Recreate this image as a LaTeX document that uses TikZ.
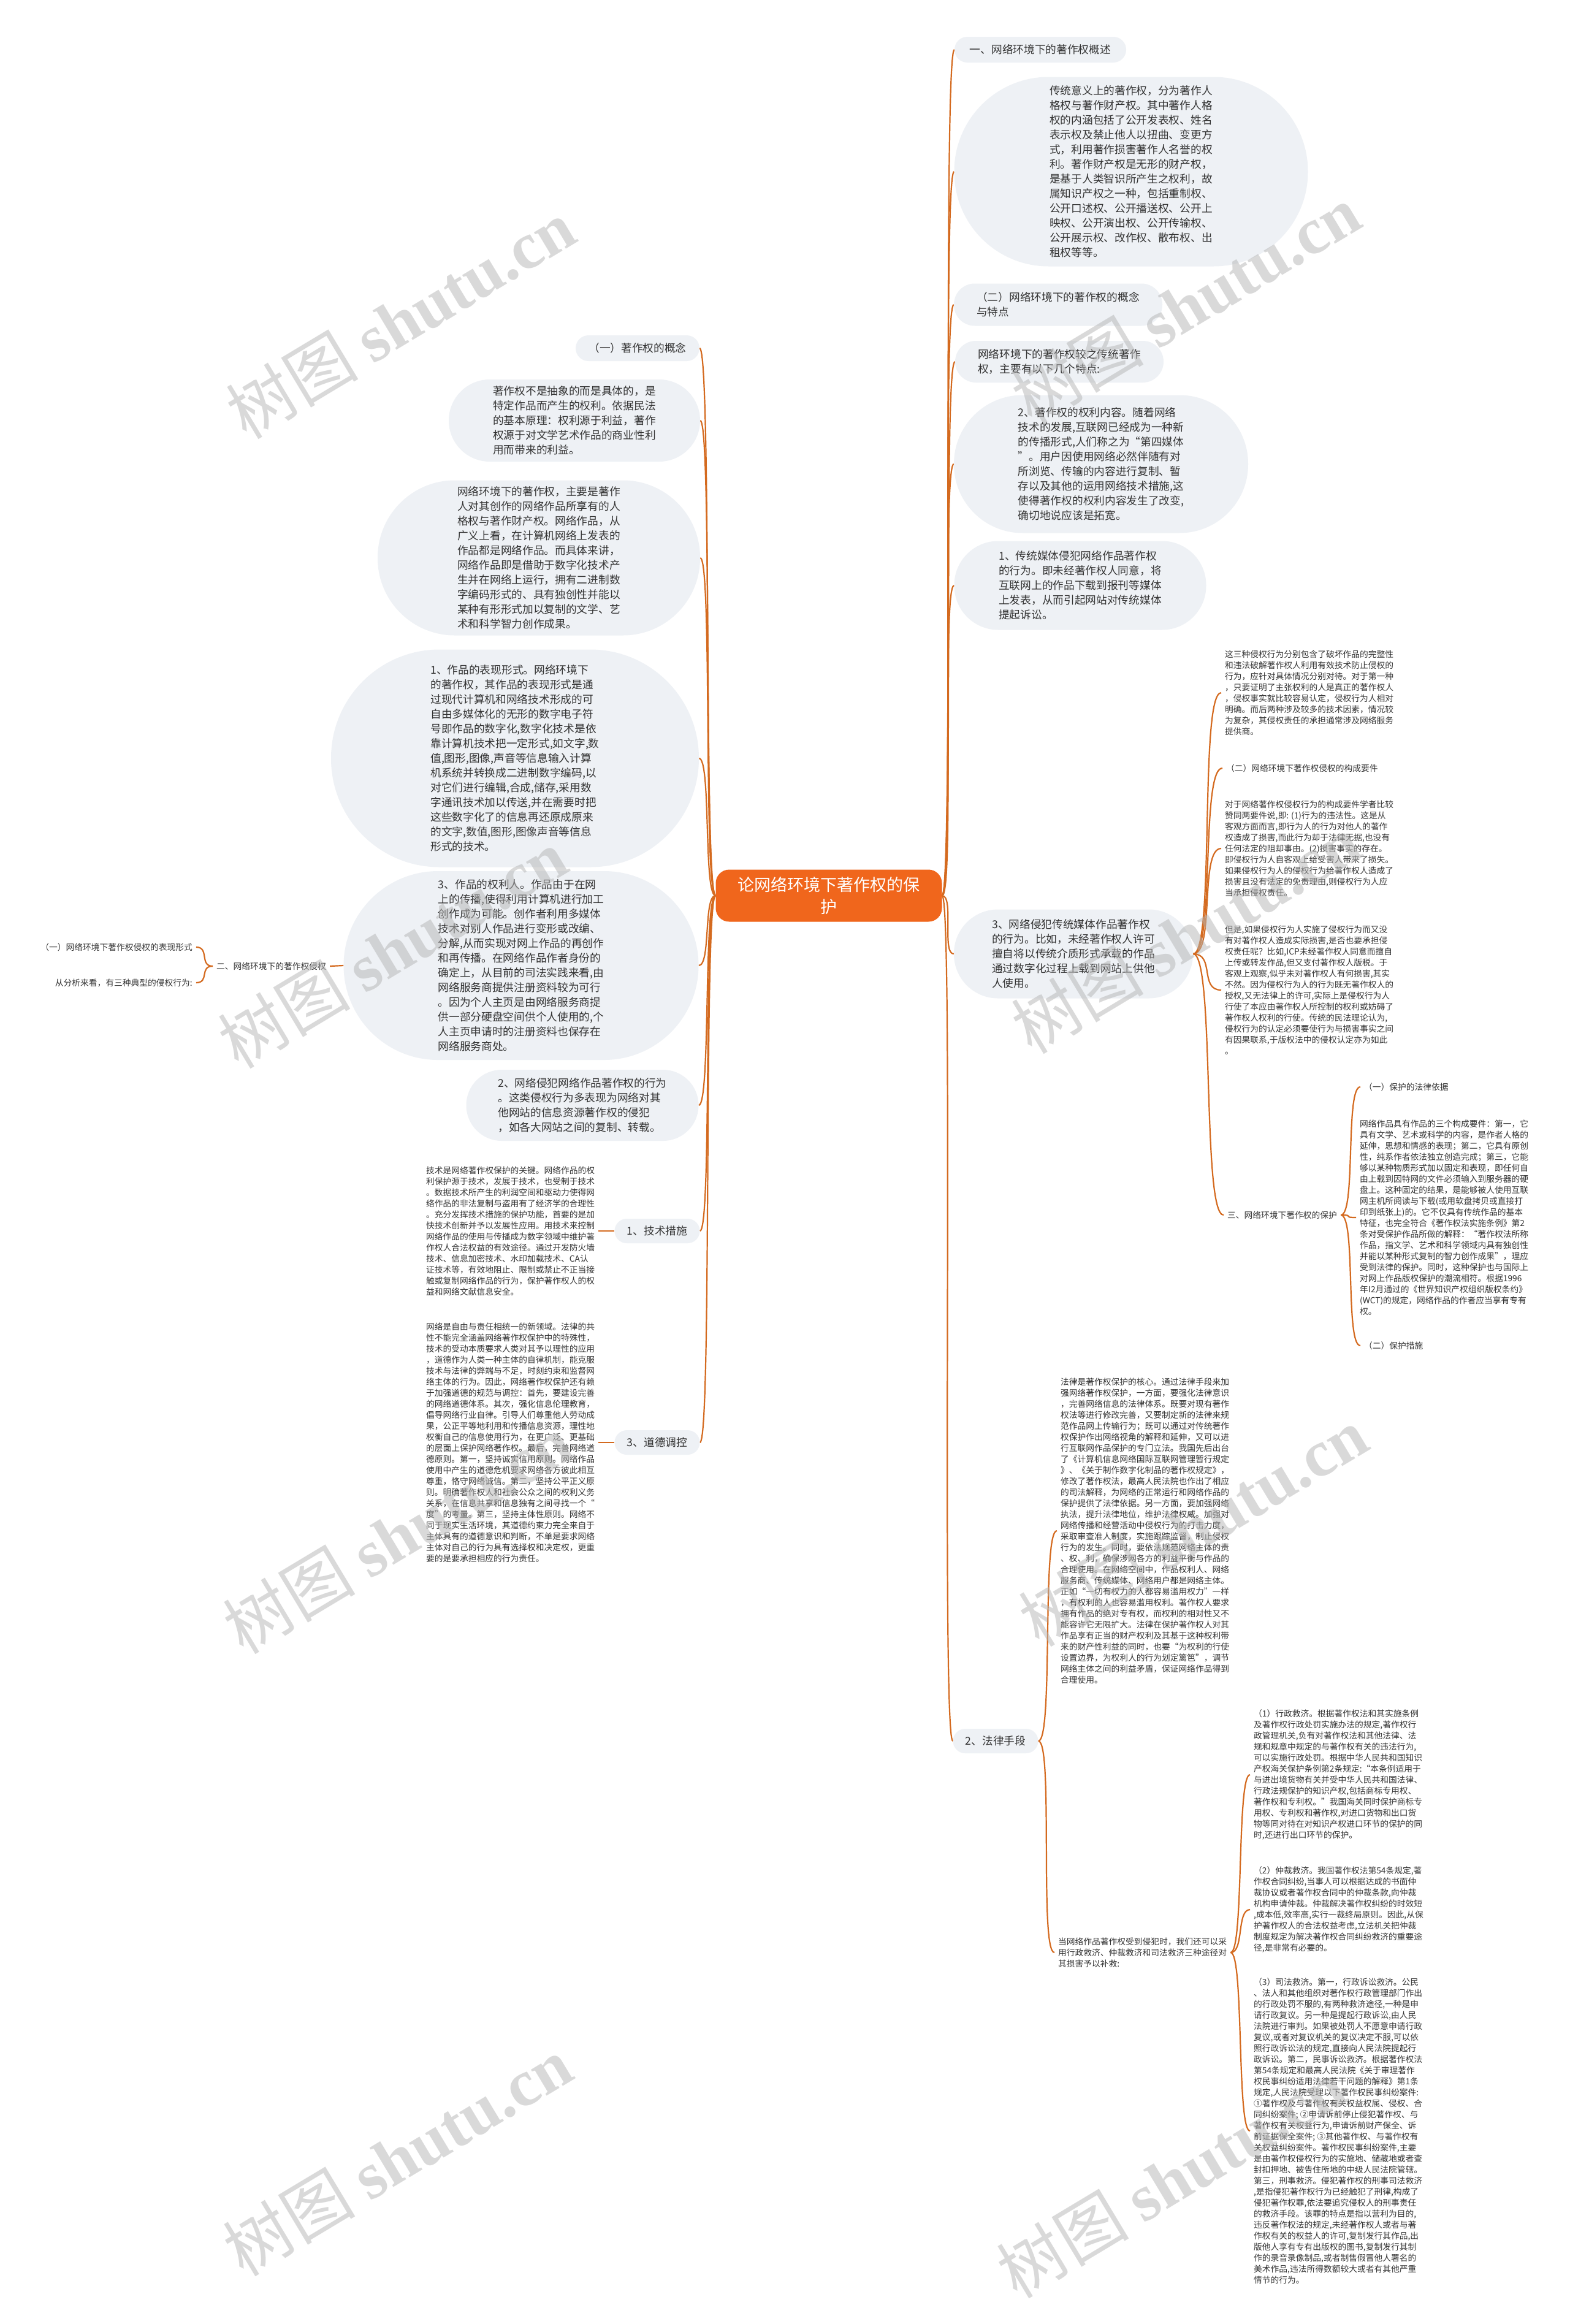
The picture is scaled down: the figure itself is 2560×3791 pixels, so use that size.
\documentclass[tikz,border=0pt]{standalone}
\usepackage{fontspec}
\setmainfont{Noto Sans CJK SC}
\newfontfamily\wmserif{Liberation Serif}
\pgfdeclarelayer{bg}
\pgfdeclarelayer{fg}
\pgfsetlayers{bg,main,fg}
\definecolor{txtc}{HTML}{333333}
\definecolor{bubc}{HTML}{EEF1F5}
\definecolor{lnkc}{HTML}{D46A1F}
\definecolor{ctrc}{HTML}{F0661C}
\definecolor{wmc}{HTML}{B4B4B4}
\tikzset{
  bigtext/.style={font=\fontsize{17.7pt}{24pt}\selectfont, text=txtc, align=left},
  smalltext/.style={font=\fontsize{13.75pt}{18pt}\selectfont, text=txtc, align=left, inner xsep=6pt, inner ysep=0pt, anchor=west},
  bubble/.style n args={3}{bigtext, fill=bubc, rounded corners=#1pt, minimum width=#2pt, minimum height=#3pt, inner sep=0pt},
  conn/.style={draw=lnkc, line width=2.2pt},
  wmark/.style={text=wmc, opacity=0.5, rotate=31, inner sep=0pt},
}
\begin{document}
\begin{tikzpicture}[x=1pt,y=-1pt]
\useasboundingbox (0,0) rectangle (2560,3791);
\begin{pgfonlayer}{bg}
\fill[white] (0,0) rectangle (2560,3791);
\end{pgfonlayer}

% centre
\node[fill=ctrc, rounded corners=22pt, minimum width=369pt, minimum height=85pt, text=white, align=center, font=\fontsize{27pt}{36pt}\selectfont, inner sep=0pt] (C) at (1352,1461) {论网络环境下著作权的保\\护};

% right column
\node[bubble={21}{280}{42}] (R1) at (1697,81) {一、网络环境下的著作权概述};
\node[bubble={154}{577}{309}] (R2) at (1845,280) {传统意义上的著作权，分为著作人\\格权与著作财产权。其中著作人格\\权的内涵包括了公开发表权、姓名\\表示权及禁止他人以扭曲、变更方\\式，利用著作损害著作人名誉的权\\利。著作财产权是无形的财产权，\\是基于人类智识所产生之权利，故\\属知识产权之一种，包括重制权、\\公开口述权、公开播送权、公开上\\映权、公开演出权、公开传输权、\\公开展示权、改作权、散布权、出\\租权等等。};
\node[bubble={34}{340}{69}] (R3) at (1726,497) {（二）网络环境下的著作权的概念\\与特点};
\node[bubble={34}{340}{68}] (R4) at (1728,590) {网络环境下的著作权较之传统著作\\权，主要有以下几个特点:};
\node[bubble={112}{480}{225}] (R5) at (1796,757) {2、著作权的权利内容。随着网络\\技术的发展,互联网已经成为一种新\\的传播形式,人们称之为“第四媒体\\”。用户因使用网络必然伴随有对\\所浏览、传输的内容进行复制、暂\\存以及其他的运用网络技术措施,这\\使得著作权的权利内容发生了改变,\\确切地说应该是拓宽。};
\node[bubble={72}{411}{145}] (R6) at (1762,955) {1、传统媒体侵犯网络作品著作权\\的行为。即未经著作权人同意，将\\互联网上的作品下载到报刊等媒体\\上发表，从而引起网站对传统媒体\\提起诉讼。};
\node[bubble={72}{390}{145}] (R7) at (1751,1556) {3、网络侵犯传统媒体作品著作权\\的行为。比如，未经著作权人许可\\擅自将以传统介质形式承载的作品\\通过数字化过程上载到网站上供他\\人使用。};
\node[bubble={20}{139}{40}] (LAW) at (1624,2840) {2、法律手段};

% right small texts
\node[smalltext] (B1) at (1992,1130) {这三种侵权行为分别包含了破坏作品的完整性\\和违法破解著作权人利用有效技术防止侵权的\\行为，应针对具体情况分别对待。对于第一种\\，只要证明了主张权利的人是真正的著作权人\\，侵权事实就比较容易认定，侵权行为人相对\\明确。而后两种涉及较多的技术因素，情况较\\为复杂，其侵权责任的承担通常涉及网络服务\\提供商。};
\node[smalltext] (B2) at (1994,1253) {（二）网络环境下著作权侵权的构成要件};
\node[smalltext] (B3) at (1992,1384) {对于网络著作权侵权行为的构成要件学者比较\\赞同两要件说,即: (1)行为的违法性。这是从\\客观方面而言,即行为人的行为对他人的著作\\权造成了损害,而此行为却于法律无据,也没有\\任何法定的阻却事由。(2)损害事实的存在。\\即侵权行为人自客观上给受害人带来了损失。\\如果侵权行为人的侵权行为给著作权人造成了\\损害且没有法定的免责理由,则侵权行为人应\\当承担侵权责任。};
\node[smalltext] (B4) at (1992,1615) {但是,如果侵权行为人实施了侵权行为而又没\\有对著作权人造成实际损害,是否也要承担侵\\权责任呢？比如,ICP未经著作权人同意而擅自\\上传或转发作品,但又支付著作权人版税。于\\客观上观察,似乎未对著作权人有何损害,其实\\不然。因为侵权行为人的行为既无著作权人的\\授权,又无法律上的许可,实际上是侵权行为人\\行使了本应由著作权人所控制的权利或妨碍了\\著作权人权利的行使。传统的民法理论认为,\\侵权行为的认定必须要使行为与损害事实之间\\有因果联系,于版权法中的侵权认定亦为如此\\。};
\node[smalltext] (R8) at (1996,1982) {三、网络环境下著作权的保护};
\node[smalltext] (S1) at (2219,1773) {（一）保护的法律依据};
\node[smalltext] (S2) at (2212,1986) {网络作品具有作品的三个构成要件：第一，它\\具有文学、艺术或科学的内容，是作者人格的\\延伸，思想和情感的表现；第二，它具有原创\\性，纯系作者依法独立创造完成；第三，它能\\够以某种物质形式加以固定和表现，即任何自\\由上载到因特网的文件必须输入到服务器的硬\\盘上。这种固定的结果，是能够被人使用互联\\网主机所阅读与下载(或用软盘拷贝或直接打\\印到纸张上)的。它不仅具有传统作品的基本\\特征，也完全符合《著作权法实施条例》第2\\条对受保护作品所做的解释：“著作权法所称\\作品，指文学、艺术和科学领域内具有独创性\\并能以某种形式复制的智力创作成果”，理应\\受到法律的保护。同时，这种保护也与国际上\\对网上作品版权保护的潮流相符。根据1996\\年I2月通过的《世界知识产权组织版权条约》\\(WCT)的规定，网络作品的作者应当享有专有\\权。};
\node[smalltext] (S3) at (2219,2195) {（二）保护措施};

\node[smalltext] (T3) at (1724,2497) {法律是著作权保护的核心。通过法律手段来加\\强网络著作权保护，一方面，要强化法律意识\\，完善网络信息的法律体系。既要对现有著作\\权法等进行修改完善，又要制定新的法律来规\\范作品网上传输行为；既可以通过对传统著作\\权保护作出网络视角的解释和延伸，又可以进\\行互联网作品保护的专门立法。我国先后出台\\了《计算机信息网络国际互联网管理暂行规定\\》、《关于制作数字化制品的著作权规定》，\\修改了著作权法，最高人民法院也作出了相应\\的司法解释，为网络的正常运行和网络作品的\\保护提供了法律依据。另一方面，要加强网络\\执法，提升法律地位，维护法律权威。加强对\\网络传播和经营活动中侵权行为的打击力度，\\采取审查准人制度，实施跟踪监督，制止侵权\\行为的发生。同时，要依法规范网络主体的责\\、权、利，确保涉网各方的利益平衡与作品的\\合理使用。在网络空间中，作品权利人、网络\\服务商、传统媒体、网络用户都是网络主体。\\正如“一切有权力的人都容易滥用权力”一样\\，有权利的人也容易滥用权利。著作权人要求\\拥有作品的绝对专有权，而权利的相对性又不\\能容许它无限扩大。法律在保护著作权人对其\\作品享有正当的财产权利及其基于这种权利带\\来的财产性利益的同时，也要“为权利的行使\\设置边界，为权利人的行为划定篱笆”，调节\\网络主体之间的利益矛盾，保证网络作品得到\\合理使用。};
\node[smalltext] (T4) at (1720,3185) {当网络作品著作权受到侵犯时，我们还可以采\\用行政救济、仲裁救济和司法救济三种途径对\\其损害予以补救:};
\node[smalltext] (P1) at (2039,2895) {（1）行政救济。根据著作权法和其实施条例\\及著作权行政处罚实施办法的规定,著作权行\\政管理机关,负有对著作权法和其他法律、法\\规和规章中规定的与著作权有关的违法行为,\\可以实施行政处罚。根据中华人民共和国知识\\产权海关保护条例第2条规定:“本条例适用于\\与进出境货物有关并受中华人民共和国法律、\\行政法规保护的知识产权,包括商标专用权、\\著作权和专利权。”我国海关同时保护商标专\\用权、专利权和著作权,对进口货物和出口货\\物等同对待在对知识产权进口环节的保护的同\\时,还进行出口环节的保护。};
\node[smalltext] (P2) at (2039,3115) {（2）仲裁救济。我国著作权法第54条规定,著\\作权合同纠纷,当事人可以根据达成的书面仲\\裁协议或者著作权合同中的仲裁条款,向仲裁\\机构申请仲裁。仲裁解决著作权纠纷的时效短\\,成本低,效率高,实行一裁终局原则。因此,从保\\护著作权人的合法权益考虑,立法机关把仲裁\\制度规定为解决著作权合同纠纷救济的重要途\\径,是非常有必要的。};
\node[smalltext] (P3) at (2039,3476) {（3）司法救济。第一，行政诉讼救济。公民\\、法人和其他组织对著作权行政管理部门作出\\的行政处罚不服的,有两种救济途径,一种是申\\请行政复议。另一种是提起行政诉讼,由人民\\法院进行审判。如果被处罚人不愿意申请行政\\复议,或者对复议机关的复议决定不服,可以依\\照行政诉讼法的规定,直接向人民法院提起行\\政诉讼。第二，民事诉讼救济。根据著作权法\\第54条规定和最高人民法院《关于审理著作\\权民事纠纷适用法律若干问题的解释》第1条\\规定,人民法院受理以下著作权民事纠纷案件:\\①著作权及与著作权有关权益权属、侵权、合\\同纠纷案件; ②申请诉前停止侵犯著作权、与\\著作权有关权益行为,申请诉前财产保全、诉\\前证据保全案件; ③其他著作权、与著作权有\\关权益纠纷案件。著作权民事纠纷案件,主要\\是由著作权侵权行为的实施地、储藏地或者查\\封扣押地、被告住所地的中级人民法院管辖。\\第三，刑事救济。侵犯著作权的刑事司法救济\\,是指侵犯著作权行为已经触犯了刑律,构成了\\侵犯著作权罪,依法要追究侵权人的刑事责任\\的救济手段。该罪的特点是指以营利为目的,\\违反著作权法的规定,未经著作权人或者与著\\作权有关的权益人的许可,复制发行其作品,出\\版他人享有专有出版权的图书,复制发行其制\\作的录音录像制品,或者制售假冒他人署名的\\美术作品,违法所得数额较大或者有其他严重\\情节的行为。};

% left column
\node[bubble={21}{202}{42}] (L1) at (1040,568) {（一）著作权的概念};
\node[bubble={67}{410}{134}] (L2) at (937,686) {著作权不是抽象的而是具体的，是\\特定作品而产生的权利。依据民法\\的基本原理：权利源于利益，著作\\权源于对文学艺术作品的商业性利\\用而带来的利益。};
\node[bubble={126}{526}{253}] (L3) at (879,910) {网络环境下的著作权，主要是著作\\人对其创作的网络作品所享有的人\\格权与著作财产权。网络作品，从\\广义上看，在计算机网络上发表的\\作品都是网络作品。而具体来讲，\\网络作品即是借助于数字化技术产\\生并在网络上运行，拥有二进制数\\字编码形式的、具有独创性并能以\\某种有形形式加以复制的文学、艺\\术和科学智力创作成果。};
\node[bubble={177}{600}{355}] (L4) at (840,1237) {1、作品的表现形式。网络环境下\\的著作权，其作品的表现形式是通\\过现代计算机和网络技术形成的可\\自由多媒体化的无形的数字电子符\\号即作品的数字化,数字化技术是依\\靠计算机技术把一定形式,如文字,数\\值,图形,图像,声音等信息输入计算\\机系统并转换成二进制数字编码,以\\对它们进行编辑,合成,储存,采用数\\字通讯技术加以传送,并在需要时把\\这些数字化了的信息再还原成原来\\的文字,数值,图形,图像声音等信息\\形式的技术。};
\node[bubble={154}{579}{308}] (L5) at (850,1575) {3、作品的权利人。作品由于在网\\上的传播,使得利用计算机进行加工\\创作成为可能。创作者利用多媒体\\技术对别人作品进行变形或改编、\\分解,从而实现对网上作品的再创作\\和再传播。在网络作品作者身份的\\确定上，从目前的司法实践来看,由\\网络服务商提供注册资料较为可行\\。因为个人主页是由网络服务商提\\供一部分硬盘空间供个人使用的,个\\人主页申请时的注册资料也保存在\\网络服务商处。};
\node[smalltext] (L6) at (347,1576) {二、网络环境下的著作权侵权};
\node[smalltext, anchor=east] (C1) at (320,1545) {（一）网络环境下著作权侵权的表现形式};
\node[smalltext, anchor=east] (C2) at (320,1603) {从分析来看，有三种典型的侵权行为:};
\node[bubble={58}{379}{116}] (L7) at (950,1803) {2、网络侵犯网络作品著作权的行为\\。这类侵权行为多表现为网络对其\\他网站的信息资源著作权的侵犯\\，如各大网站之间的复制、转载。};
\node[bubble={20}{139}{40}] (L8) at (1072,2008) {1、技术措施};
\node[bubble={20}{139}{40}] (L9) at (1072,2353) {3、道德调控};
\node[smalltext] (T1) at (689,2008) {技术是网络著作权保护的关键。网络作品的权\\利保护源于技术，发展于技术，也受制于技术\\。数据技术所产生的利润空间和驱动力使得网\\络作品的非法复制与盗用有了经济学的合理性\\。充分发挥技术措施的保护功能，首要的是加\\快技术创新并予以发展性应用。用技术来控制\\网络作品的使用与传播成为数字领域中维护著\\作权人合法权益的有效途径。通过开发防火墙\\技术、信息加密技术、水印加载技术、CA认\\证技术等，有效地阻止、限制或禁止不正当接\\触或复制网络作品的行为，保护著作权人的权\\益和网络文献信息安全。};
\node[smalltext] (T2) at (689,2353) {网络是自由与责任相统一的新领域。法律的共\\性不能完全涵盖网络著作权保护中的特殊性，\\技术的受动本质要求人类对其予以理性的应用\\，道德作为人类一种主体的自律机制，能克服\\技术与法律的弊端与不足，时刻约束和监督网\\络主体的行为。因此，网络著作权保护还有赖\\于加强道德的规范与调控：首先，要建设完善\\的网络道德体系。其次，强化信息伦理教育，\\倡导网络行业自律。引导人们尊重他人劳动成\\果，公正平等地利用和传播信息资源，理性地\\权衡自己的信息使用行为，在更广泛、更基础\\的层面上保护网络著作权。最后，完善网络道\\德原则。第一，坚持诚实信用原则。网络作品\\使用中产生的道德危机要求网络各方彼此相互\\尊重，恪守网络诚信。第二，坚持公平正义原\\则。明确著作权人和社会公众之间的权利义务\\关系，在信息共享和信息独有之间寻找一个“\\度”的考量。第三，坚持主体性原则。网络不\\同于现实生活环境，其道德约束力完全来自于\\主体具有的道德意识和判断，不单是要求网络\\主体对自己的行为具有选择权和决定权，更重\\要的是要承担相应的行为责任。};

% connectors
\begin{pgfonlayer}{bg}
\foreach \n in {R1,R2,R3,R4,R5,R6,R7,LAW}
  \draw[conn] (C.east) .. controls +(20,0) and +(-20,0) .. (\n.west);
\foreach \n in {L1,L2,L3,L4,L5,L7,L8,L9}
  \draw[conn] (C.west) .. controls +(-20,0) and +(20,0) .. (\n.east);
\draw[conn] (L5.west) -- (L6.east);
\foreach \n in {C1,C2}
  \draw[conn] (L6.west) .. controls +(-22,0) and +(22,0) .. (\n.east);
\draw[conn] (L8.west) -- (T1.east);
\draw[conn] (L9.west) -- (T2.east);
\foreach \n in {B1,B2,B3,B4,R8}
  \draw[conn] (R7.east) .. controls +(36,0) and +(-36,0) .. (\n.west);
\foreach \n in {S1,S2,S3}
  \draw[conn] (R8.east) .. controls +(25,0) and +(-25,0) .. (\n.west);
\foreach \n in {T3,T4}
  \draw[conn] (LAW.east) .. controls +(25,0) and +(-25,0) .. (\n.west);
\foreach \n in {P1,P2,P3}
  \draw[conn] (T4.east) .. controls +(22,0) and +(-22,0) .. (\n.west);
\end{pgfonlayer}

% watermarks
\begin{pgfonlayer}{fg}
\foreach \wx/\wy in {653/520, 1934/496, 640/1547, 1934/1523, 648/2502, 1946/2490, 648/3517, 1910/3553}
  \node[wmark] (wm) at (\wx,\wy) {\fontsize{108pt}{108pt}\selectfont 树图 {\wmserif\bfseries shutu.cn}};
\end{pgfonlayer}
\end{tikzpicture}
\end{document}
